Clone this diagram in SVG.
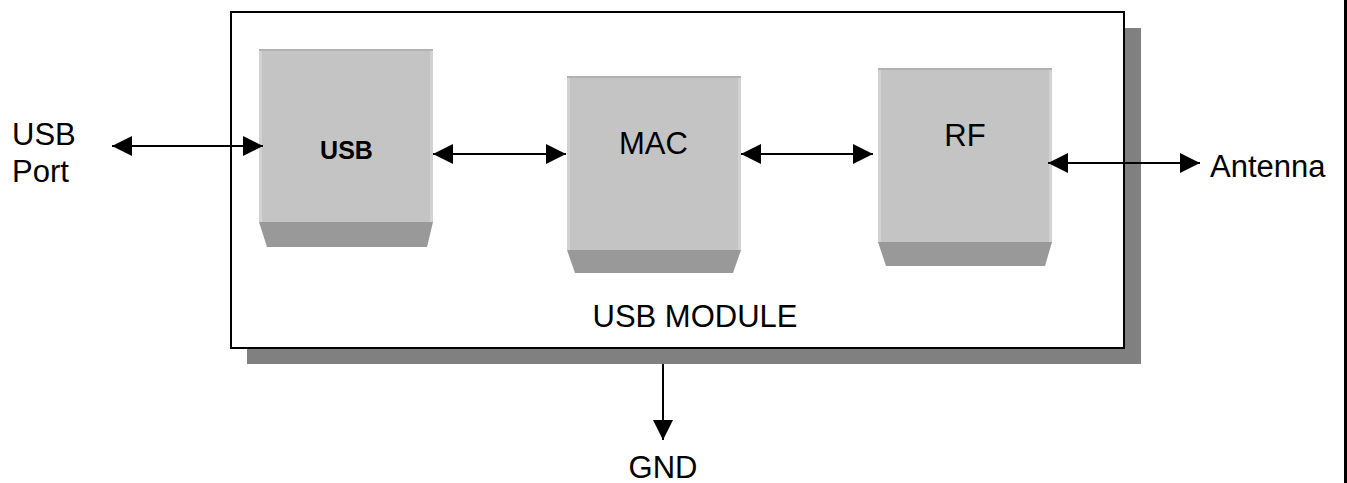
<svg xmlns="http://www.w3.org/2000/svg" width="1347" height="483" viewBox="0 0 1347 483">
  <style>
    .lbl { font-family: "Liberation Sans", Arial, sans-serif; font-size: 31px; fill: #000; }
    .bold { font-weight: bold; font-size: 25px; }
    .face { fill: #c4c4c4; }
    .top { fill: #b2b2b2; }
    .side { fill: #d2d2d2; }
    .base { fill: #999999; }
    .conn { stroke: #000; stroke-width: 2; fill: none; }
  </style>
  <defs>
    <marker id="ah" viewBox="0 0 20 20" refX="20" refY="10" markerWidth="20" markerHeight="20" markerUnits="userSpaceOnUse" orient="auto-start-reverse">
      <path d="M0,0 L20,10 L0,20 Z" fill="#000"/>
    </marker>
  </defs>
  <rect width="1347" height="483" fill="#fff"/>

  <g id="module">
    <rect x="247" y="28" width="894" height="336" fill="#808080"/>
    <rect x="231" y="12" width="893" height="336" fill="#fff" stroke="#000" stroke-width="2"/>
    <text class="lbl" x="695" y="327" text-anchor="middle">USB MODULE</text>
  </g>

  <g id="usb">
    <polygon class="base" points="259,222 433,222 427,247 267,247"/>
    <rect class="face" x="259" y="49" width="174" height="173"/>
    <rect class="top" x="259" y="49" width="174" height="2"/>
    <rect class="side" x="259" y="51" width="3" height="171"/>
    <rect class="side" x="430" y="51" width="3" height="171"/>
    <text class="lbl bold" x="346.5" y="159" text-anchor="middle">USB</text>
  </g>

  <g id="mac">
    <polygon class="base" points="567,250 741,250 733,273 575,273"/>
    <rect class="face" x="567" y="76" width="174" height="174"/>
    <rect class="top" x="567" y="76" width="174" height="2"/>
    <rect class="side" x="567" y="78" width="3" height="172"/>
    <rect class="side" x="738" y="78" width="3" height="172"/>
    <text class="lbl" x="653.5" y="154" text-anchor="middle">MAC</text>
  </g>

  <g id="rf">
    <polygon class="base" points="878,242 1052,242 1045,266 886,266"/>
    <rect class="face" x="878" y="68" width="174" height="174"/>
    <rect class="top" x="878" y="68" width="174" height="2"/>
    <rect class="side" x="878" y="70" width="3" height="172"/>
    <rect class="side" x="1049" y="70" width="3" height="172"/>
    <text class="lbl" x="965" y="146" text-anchor="middle">RF</text>
  </g>

  <g id="usb-port">
    <text class="lbl" x="12" y="145">USB</text>
    <text class="lbl" x="12" y="182">Port</text>
  </g>

  <g id="antenna">
    <text class="lbl" x="1210" y="177">Antenna</text>
  </g>

  <g id="gnd">
    <text class="lbl" x="663" y="478" text-anchor="middle">GND</text>
  </g>

  <g id="connectors">
    <line class="conn" x1="112" y1="146" x2="263" y2="146" marker-start="url(#ah)" marker-end="url(#ah)"/>
    <line class="conn" x1="433" y1="154" x2="566" y2="154" marker-start="url(#ah)" marker-end="url(#ah)"/>
    <line class="conn" x1="741" y1="154" x2="873" y2="154" marker-start="url(#ah)" marker-end="url(#ah)"/>
    <line class="conn" x1="1048" y1="163" x2="1200" y2="163" marker-start="url(#ah)" marker-end="url(#ah)"/>
    <line class="conn" x1="663" y1="364" x2="663" y2="440" marker-end="url(#ah)"/>
  </g>

  <line x1="1345.5" y1="0" x2="1345.5" y2="483" stroke="#000" stroke-width="3"/>
</svg>
